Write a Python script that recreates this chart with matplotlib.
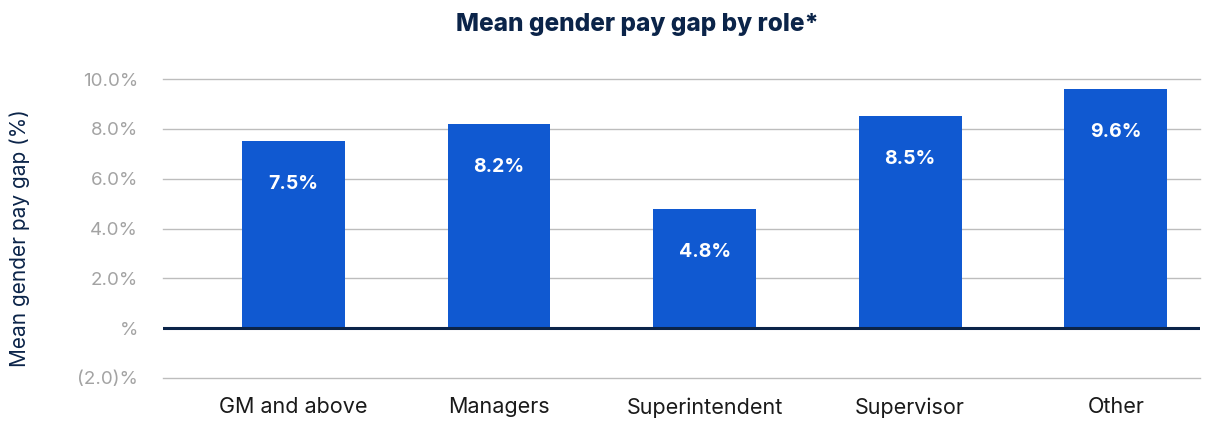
import numpy as np
import matplotlib.pyplot as plt
from matplotlib.ticker import FixedLocator, FixedFormatter

roles = ['GM and above', 'Managers', 'Superintendent', 'Supervisor', 'Other']
gap = [7.5, 8.2, 4.8, 8.5, 9.6]
ytick_vals = [-2, 0, 2, 4, 6, 8, 10]
ytick_labels = ['(2.0)%', '%', '2.0%', '4.0%', '6.0%', '8.0%', '10.0%']

plt.rcParams['font.family'] = ['Inter', 'DejaVu Sans']

navy = '#0b2449'
blue = '#1059d1'

fig = plt.figure(figsize=(12.15, 4.22), dpi=100)
ax = fig.add_axes([163 / 1215, 44 / 422, (1200 - 163) / 1215, (378 - 79) / 422])

x = np.arange(len(roles))
bars = ax.bar(x, gap, width=0.5, color=blue, zorder=3)

for b, v in zip(bars, gap):
    ax.annotate(f'{v:.1f}%', (b.get_x() + b.get_width() / 2, v),
                xytext=(0, -31), textcoords='offset points',
                ha='center', va='center', color='white',
                fontsize=14, fontweight='bold', zorder=4)

ax.set_ylim(-2, 10)
ax.set_xlim(-0.635, 4.41)
ax.yaxis.set_major_locator(FixedLocator(ytick_vals))
ax.yaxis.set_major_formatter(FixedFormatter(ytick_labels))
ax.set_xticks(x)
ax.set_xticklabels(roles, fontsize=15.5, color='#1a1a1a')
ax.tick_params(axis='y', length=0, labelsize=13.5, labelcolor='#a3a3a3', pad=18)
ax.tick_params(axis='x', length=0, pad=14)
for yv in ytick_vals:
    if yv != 0:
        ax.axhline(yv, color='#bdbdbd', linewidth=1, zorder=0, clip_on=False)
ax.axhline(0, color=navy, linewidth=2.2, zorder=5)
for s in ax.spines.values():
    s.set_visible(False)

fig.text(20 / 1215, 1 - 238 / 422, 'Mean gender pay gap (%)', rotation=90,
         ha='center', va='center', fontsize=15, color=navy)
fig.text(637 / 1215, 1 - 25 / 422, 'Mean gender pay gap by role*', ha='center', va='center',
         fontsize=17.5, fontweight='heavy', color=navy)

fig.savefig('out.png', dpi=100)
